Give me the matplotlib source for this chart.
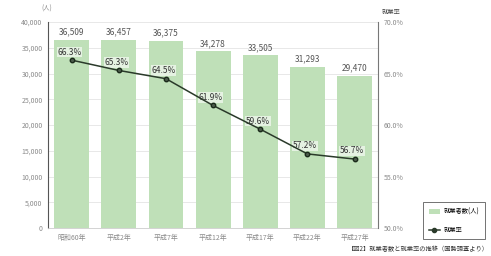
import numpy as np
import matplotlib.pyplot as plt
from matplotlib.patches import Patch
from matplotlib.lines import Line2D

plt.rcParams['font.family'] = ['Noto Sans CJK JP', 'DejaVu Sans']

# data
years = ['昭和60年', '平成2年', '平成7年', '平成12年', '平成17年', '平成22年', '平成27年']
workers = [36509, 36457, 36375, 34278, 33505, 31293, 29470]
rate = [66.3, 65.3, 64.5, 61.9, 59.6, 57.2, 56.7]

bar_col = '#bfe0b8'
txt_col = '#8a8a8a'

fig = plt.figure(figsize=(4.91, 2.56), dpi=100)
ax = fig.add_axes([0.098, 0.109, 0.672, 0.805])
x = np.arange(len(years))

ax.bar(x, workers, width=0.74, color=bar_col, zorder=2)
ax.set_ylim(0, 40000)
ax.set_xlim(-0.5, len(years) - 0.5)
ax.set_yticks(range(0, 40001, 5000))
ax.set_yticklabels(['{:,}'.format(v) for v in range(0, 40001, 5000)])
ax.set_xticks(x)
ax.set_xticklabels(years)
ax.tick_params(axis='both', labelsize=5, colors=txt_col, length=0, pad=4)
ax.grid(axis='y', color='#e4e4e4', linewidth=0.6, zorder=0)
for s in ['top', 'right']:
    ax.spines[s].set_visible(False)
ax.spines['left'].set_color('#555555')
ax.spines['left'].set_linewidth(0.8)
ax.spines['bottom'].set_color('#cccccc')
ax.spines['bottom'].set_linewidth(0.6)

for xi, w in zip(x, workers):
    ax.text(xi, w + 700, '{:,}'.format(w), ha='center', va='bottom', fontsize=6, color='#555555')

ax2 = ax.twinx()
ax2.set_ylim(50, 70)
ax2.set_yticks([50, 55, 60, 65, 70])
ax2.set_yticklabels(['{:.1f}%'.format(v) for v in [50, 55, 60, 65, 70]])
ax2.tick_params(axis='y', labelsize=5, colors=txt_col, length=0, pad=4)
for s in ['top', 'left', 'bottom']:
    ax2.spines[s].set_visible(False)
ax2.spines['right'].set_color('#777777')
ax2.spines['right'].set_linewidth(0.8)

ax2.plot(x, rate, color='#2a3a2a', linewidth=1.1, marker='o', markersize=3.2,
         markerfacecolor='#4a5a4a', markeredgecolor='#1a2a1a', zorder=5)
for xi, r in zip(x, rate):
    ax2.text(xi - 0.05, r + 0.35, '{:.1f}%'.format(r), ha='center', va='bottom', fontsize=6,
             color='#333333', bbox=dict(facecolor='white', edgecolor='none', alpha=0.6, pad=0.5))

fig.text(0.085, 0.965, '(人)', fontsize=4.5, color=txt_col, va='center')
fig.text(0.778, 0.955, '就業率', fontsize=4.5, color='#444444', va='center')

handles = [Patch(facecolor=bar_col, edgecolor='none'),
           Line2D([0], [0], color='#2a3a2a', marker='o', markersize=3, linewidth=1.1)]
leg = fig.legend(handles, ['就業者数(人)', '就業率'], loc='lower left',
                 bbox_to_anchor=(0.862, 0.065), fontsize=4.5, frameon=True,
                 fancybox=False, edgecolor='#333333', handlelength=1.8, handletextpad=0.6,
                 labelspacing=1.6, borderpad=0.9, borderaxespad=0)
leg.get_frame().set_linewidth(0.6)

fig.text(0.995, 0.01, '【図2】就業者数と就業率の推移（国勢調査より）', fontsize=4.5,
         color='#333333', ha='right', va='bottom')

fig.savefig('out.png', dpi=100)
